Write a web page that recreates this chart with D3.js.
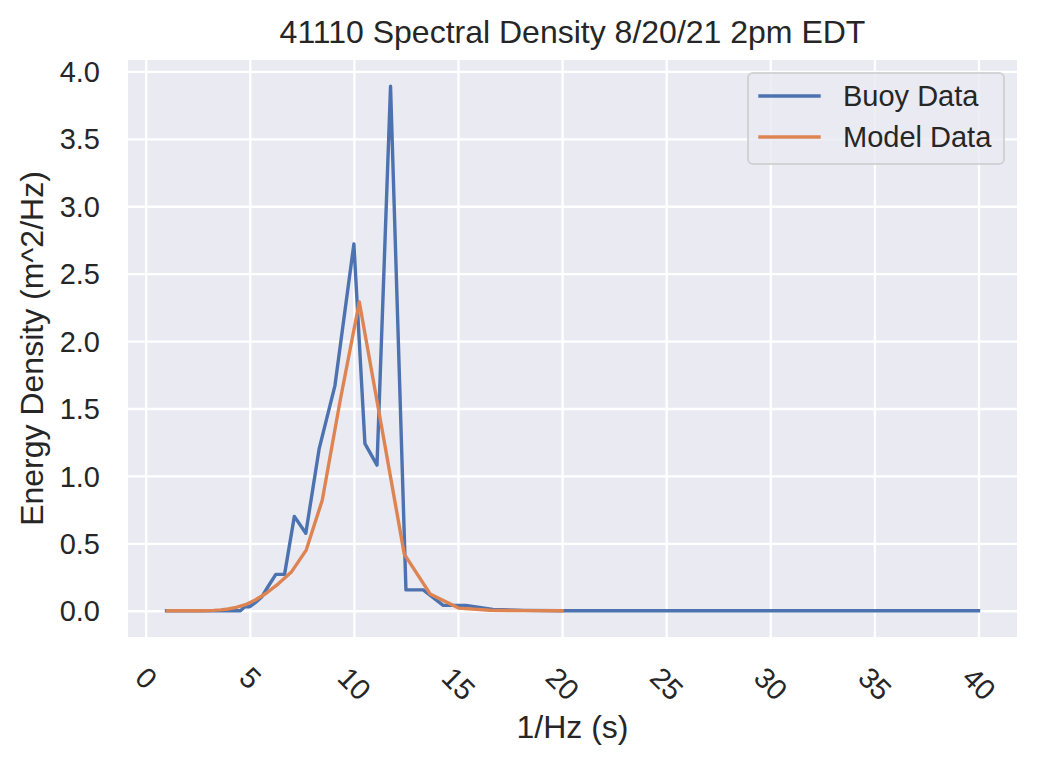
<!DOCTYPE html>
<html>
<head>
<meta charset="utf-8">
<script src="https://cdn.jsdelivr.net/npm/d3@7"></script>
<style>
  html, body { margin: 0; padding: 0; background: #ffffff; }
  svg { display: block; font-family: "Liberation Sans", Arial, sans-serif; }
</style>
</head>
<body>
<svg id="chart" width="1056" height="764"></svg>
<script>
// ---- data (periods in seconds, energy density in m^2/Hz) ----
const buoyPeriod = [1.00, 2.00, 3.00, 4.00, 4.55, 4.76, 5.00, 5.26, 5.56, 5.88, 6.25, 6.67, 7.14, 7.69, 8.33, 9.09, 10.00, 10.53, 11.11, 11.76, 12.50, 13.33, 14.29, 15.38, 16.67, 18.18, 20.00, 22.22, 25.00, 28.57, 33.33, 40.00];
const buoyDensity = [0, 0, 0, 0, 0, 0.03, 0.03, 0.06, 0.10, 0.18, 0.27, 0.27, 0.70, 0.575, 1.20, 1.67, 2.72, 1.24, 1.08, 3.89, 0.155, 0.155, 0.04, 0.04, 0.01, 0.003, 0, 0, 0, 0, 0, 0];

const modelPeriod = [20.00, 18.18, 16.53, 15.03, 13.66, 12.42, 11.29, 10.26, 9.33, 8.48, 7.71, 7.01, 6.37, 5.79, 5.26, 4.79, 4.35, 3.96, 3.60, 3.27, 2.97, 2.70, 2.46, 2.23, 2.03, 1.85, 1.68, 1.53, 1.39, 1.26, 1.15, 1.04];
const modelDensity = [0, 0.001, 0.004, 0.02, 0.125, 0.42, 1.40, 2.29, 1.55, 0.82, 0.45, 0.29, 0.20, 0.13, 0.08, 0.045, 0.025, 0.013, 0.007, 0.003, 0.001, 0, 0, 0, 0, 0, 0, 0, 0, 0, 0, 0];

const xTicks = [0, 5, 10, 15, 20, 25, 30, 35, 40];
const yTicks = [0.0, 0.5, 1.0, 1.5, 2.0, 2.5, 3.0, 3.5, 4.0];
const seriesNames = ["Buoy Data", "Model Data"];
const seriesColors = ["#4C72B0", "#DD8452"];
const titleText = "41110 Spectral Density 8/20/21 2pm EDT";
const xLabel = "1/Hz (s)";
const yLabel = "Energy Density (m^2/Hz)";

// ---- layout ----
const svg = d3.select("#chart");
const plot = { left: 128, top: 60, right: 1017, bottom: 637 };
const W = plot.right - plot.left, H = plot.bottom - plot.top;
const tickFont = 29, labelFont = 32;

const x = d3.scaleLinear().domain([-0.85, 41.85]).range([plot.left, plot.right]);
const y = d3.scaleLinear().domain([-0.1945, 4.0845]).range([plot.bottom, plot.top]);

// background
svg.append("rect").attr("x", plot.left).attr("y", plot.top)
  .attr("width", W).attr("height", H).attr("fill", "#EAEAF2");

// grid + ticks via axes
const xAxis = d3.axisBottom(x).tickValues(xTicks).tickSize(-H).tickPadding(0).tickFormat(d3.format("d"));
const gx = svg.append("g").attr("transform", `translate(0,${plot.bottom})`).call(xAxis);
gx.select(".domain").remove();
gx.selectAll(".tick line").attr("stroke", "#ffffff").attr("stroke-width", 2.3);

gx.selectAll(".tick text")
  .attr("fill", "#262626").attr("font-size", tickFont + "px")
  .attr("text-anchor", "middle").attr("dy", null).attr("y", null)
  .attr("dominant-baseline", "central")
  .each(function () {
    const w = this.getComputedTextLength();
    const half = (w + 0.716 * tickFont) * 0.3536;
    d3.select(this).attr("transform", `translate(0,${28 + half}) rotate(45)`);
  });

const yAxis = d3.axisLeft(y).tickValues(yTicks).tickSize(-W).tickPadding(28).tickFormat(d3.format(".1f"));
const gy = svg.append("g").attr("transform", `translate(${plot.left},0)`).call(yAxis);
gy.select(".domain").remove();
gy.selectAll(".tick line").attr("stroke", "#ffffff").attr("stroke-width", 2.3);
gy.selectAll(".tick text").attr("fill", "#262626").attr("font-size", tickFont + "px")
  .attr("dy", "0.35em");

// lines
const line = d3.line().x(d => x(d[0])).y(d => y(d[1]));
const buoy = buoyPeriod.map((p, i) => [p, buoyDensity[i]]);
const model = modelPeriod.map((p, i) => [p, modelDensity[i]]);

svg.append("clipPath").attr("id", "clip").append("rect")
  .attr("x", plot.left).attr("y", plot.top).attr("width", W).attr("height", H);

[buoy, model].forEach((data, i) => {
  svg.append("path").datum(data)
    .attr("clip-path", "url(#clip)")
    .attr("d", line)
    .attr("fill", "none")
    .attr("stroke", seriesColors[i])
    .attr("stroke-width", 3.4)
    .attr("stroke-linejoin", "round")
    .attr("stroke-linecap", "square");
});

// title & labels
svg.append("text").attr("x", (plot.left + plot.right) / 2).attr("y", 43)
  .attr("text-anchor", "middle").attr("font-size", labelFont + "px").attr("fill", "#262626")
  .text(titleText);
svg.append("text").attr("x", (plot.left + plot.right) / 2).attr("y", 738)
  .attr("text-anchor", "middle").attr("font-size", labelFont + "px").attr("fill", "#262626")
  .text(xLabel);
svg.append("text")
  .attr("transform", `translate(43,${(plot.top + plot.bottom) / 2}) rotate(-90)`)
  .attr("text-anchor", "middle").attr("font-size", labelFont + "px").attr("fill", "#262626")
  .text(yLabel);

// legend
const lg = svg.append("g");
lg.append("rect").attr("x", 748).attr("y", 73).attr("width", 256).attr("height", 91)
  .attr("rx", 5).attr("ry", 5)
  .attr("fill", "rgba(234,234,242,0.8)")
  .attr("stroke", "rgba(204,204,204,0.8)").attr("stroke-width", 2);
seriesNames.forEach((name, i) => {
  const cy = 96 + i * 41;
  lg.append("line").attr("x1", 760).attr("x2", 819).attr("y1", cy).attr("y2", cy)
    .attr("stroke", seriesColors[i]).attr("stroke-width", 3.4).attr("stroke-linecap", "square");
  lg.append("text").attr("x", 843).attr("y", cy).attr("dominant-baseline", "central")
    .attr("font-size", tickFont + "px").attr("fill", "#262626").text(name);
});
</script>
</body>
</html>
